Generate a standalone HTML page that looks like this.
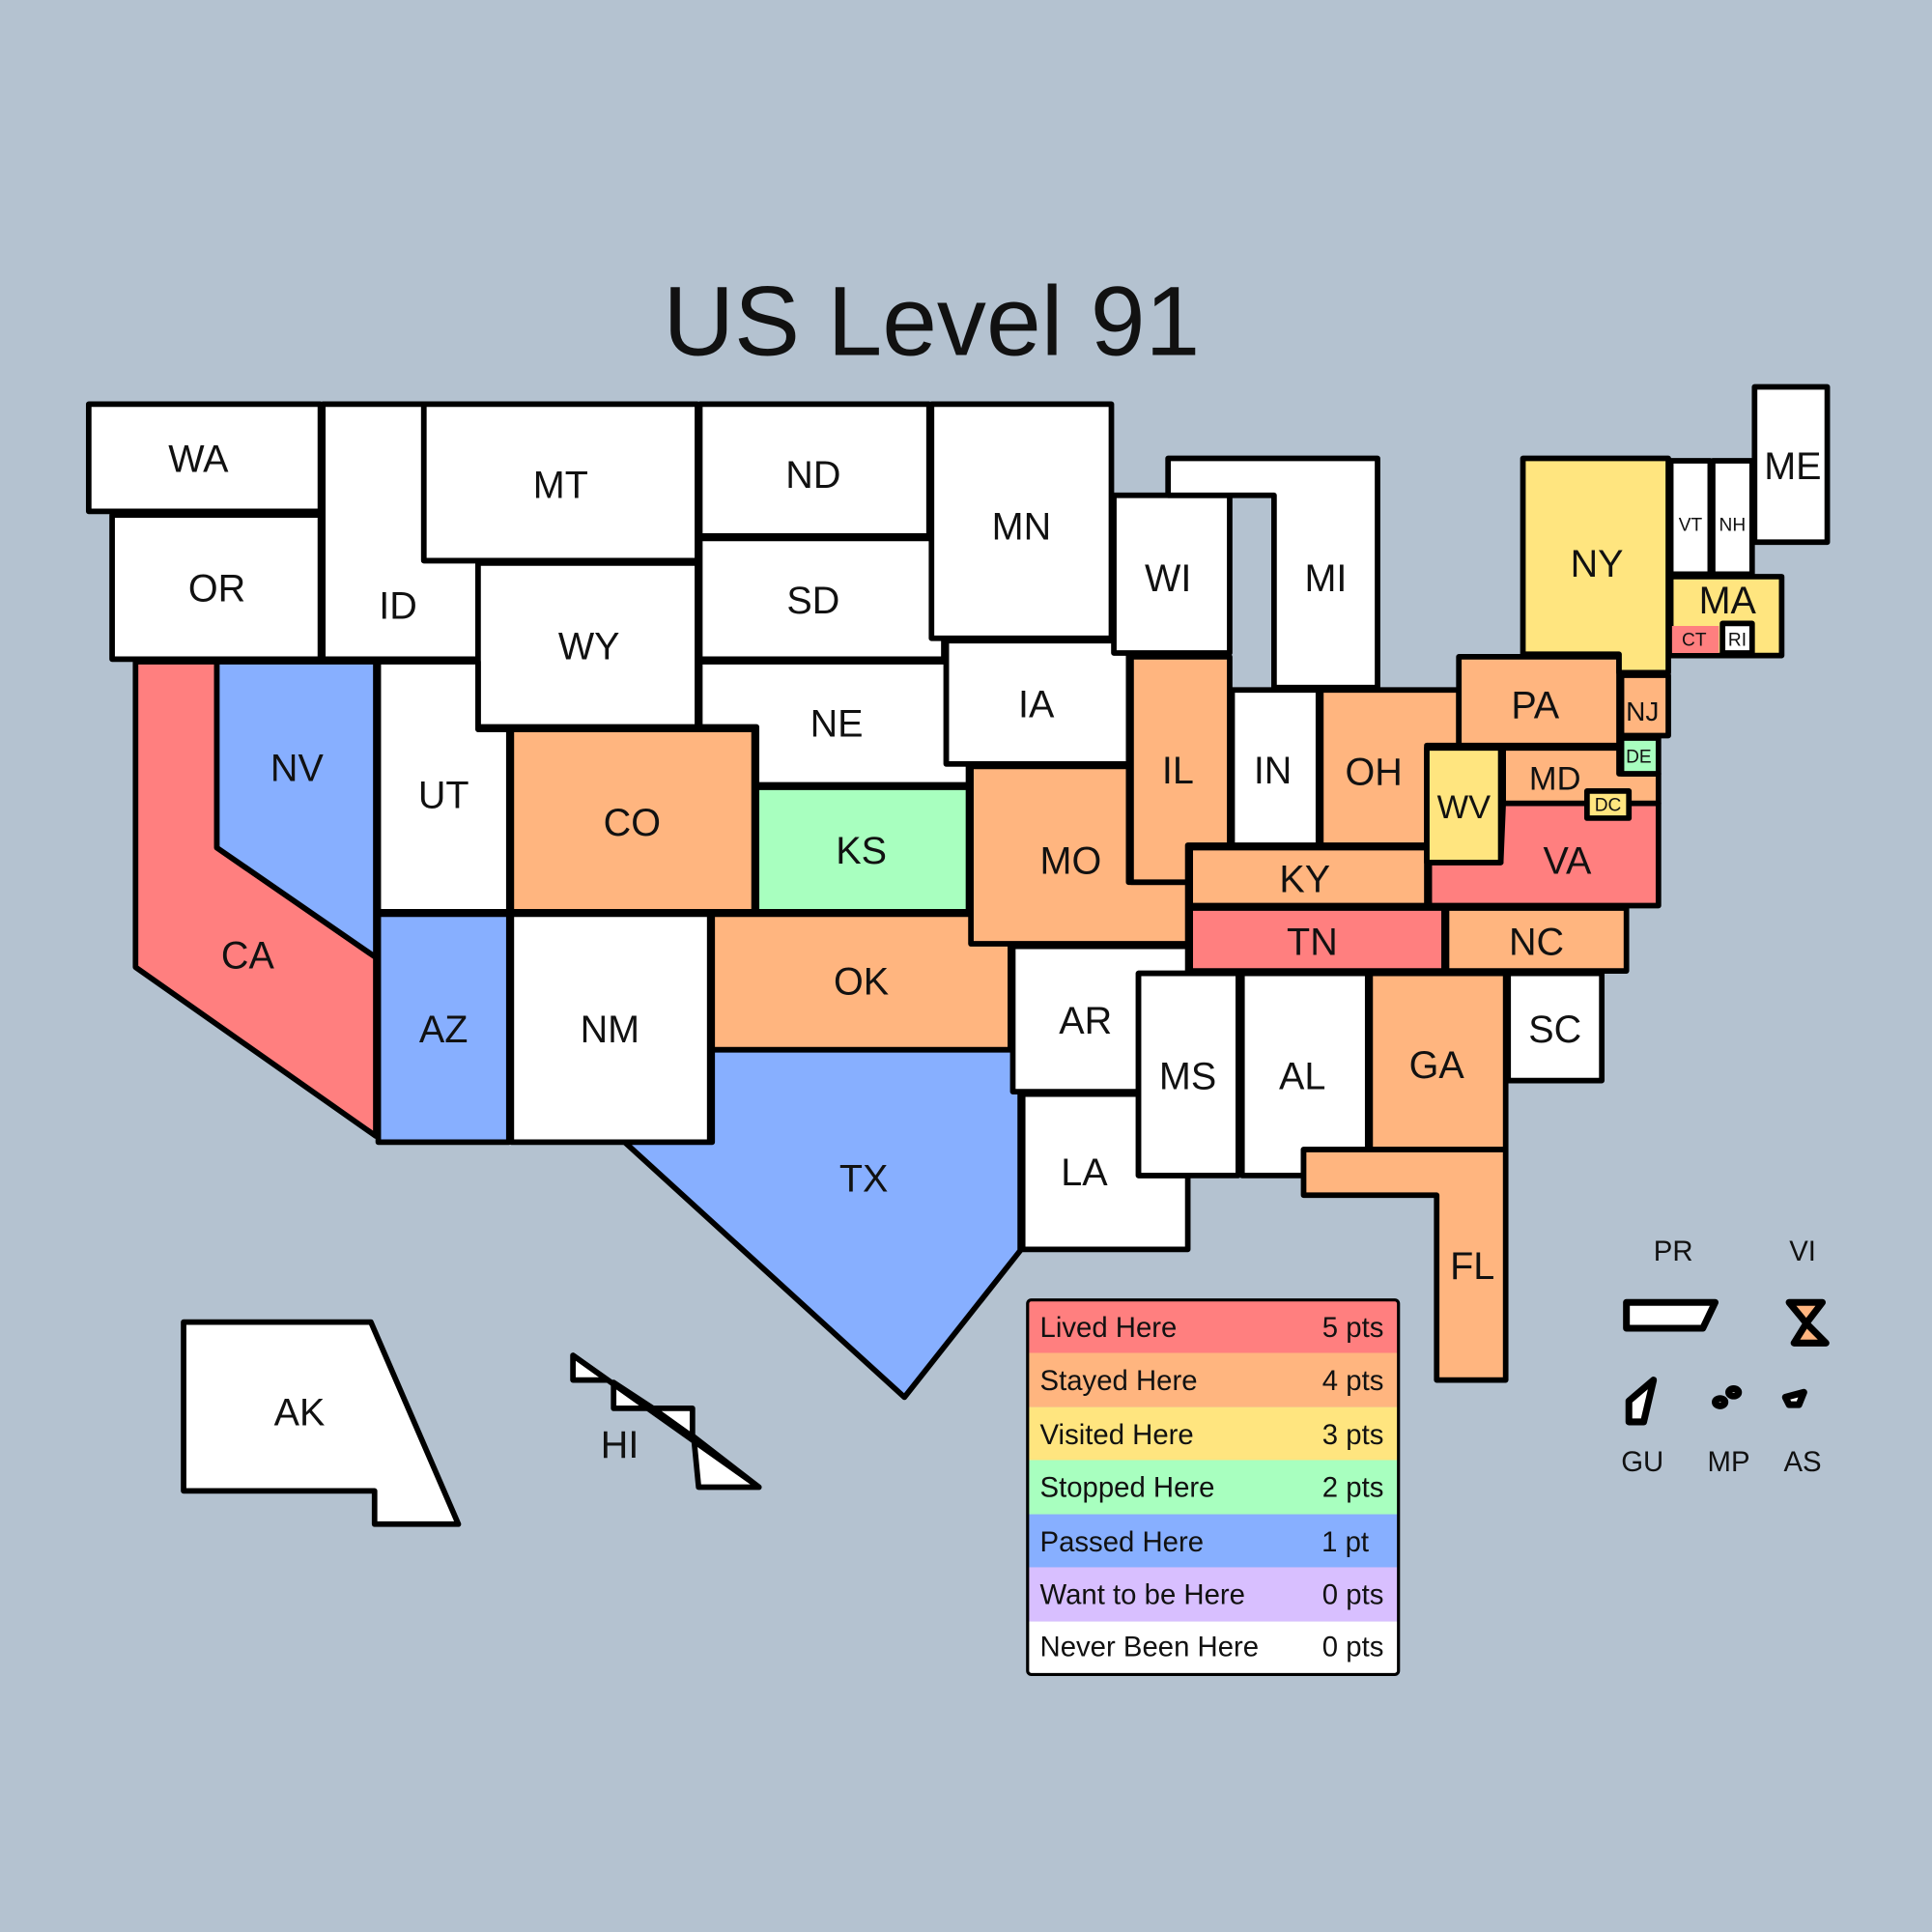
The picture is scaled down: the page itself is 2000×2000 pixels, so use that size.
<!DOCTYPE html>
<html><head><meta charset="utf-8"><style>
html,body{margin:0;padding:0;background:#b4c2d0;}
svg{display:block;}
text{font-family:"Liberation Sans",sans-serif;fill:#111;}
</style></head><body>
<svg width="2000" height="2000" viewBox="0 0 1568 1568" xmlns="http://www.w3.org/2000/svg">
<rect width="1568" height="1568" fill="#b4c2d0"/>
<text x="756" y="288" font-size="80" text-anchor="middle">US Level 91</text>
<g stroke="#000" stroke-width="4.5" stroke-linejoin="round">
<polygon fill="#fff" points="72,328 260,328 260,415 72,415"/>
<polygon fill="#fff" points="91,418 260,418 260,535 91,535"/>
<polygon fill="#fff" points="262,328 344,328 344,455 388,455 388,535 262,535"/>
<polygon fill="#fff" points="344,328 566,328 566,455 344,455"/>
<polygon fill="#fff" points="388,457 566,457 566,590 388,590"/>
<polygon fill="#fff" points="568,328 754,328 754,435 568,435"/>
<polygon fill="#fff" points="568,437 766,437 766,535 568,535"/>
<polygon fill="#fff" points="756,328 902,328 902,518 756,518"/>
<polygon fill="#fff" points="568,537 768,537 768,620 786,620 786,637 614,637 614,590 568,590"/>
<polygon fill="#fff" points="768,520 916,520 916,620 768,620"/>
<polygon fill="#fff" points="904,402 998,402 998,530 904,530"/>
<polygon fill="#fff" points="948,372 1118,372 1118,558 1034,558 1034,402 948,402"/>
<polygon fill="#ff7f7f" points="110,537 176,537 176,688 305,777 305,922 110,785"/>
<polygon fill="#87afff" points="176,537 305,537 305,777 176,688"/>
<polygon fill="#fff" points="307,537 388,537 388,592 413,592 413,740 307,740"/>
<polygon fill="#ffb57f" points="415,592 612,592 612,740 415,740"/>
<polygon fill="#a8ffbf" points="614,639 786,639 786,740 614,740"/>
<polygon fill="#87afff" points="307,742 413,742 413,927 307,927"/>
<polygon fill="#fff" points="415,742 576,742 576,927 415,927"/>
<polygon fill="#ffb57f" points="578,742 820,742 820,852 578,852"/>
<polygon fill="#87afff" points="578,852 828,852 828,1015 734,1134 507,927 578,927"/>
<polygon fill="#ffb57f" points="788,622 916,622 916,716 964,716 964,766 788,766"/>
<polygon fill="#fff" points="822,768 964,768 964,790 924,790 924,886 822,886"/>
<polygon fill="#fff" points="830,888 924,888 924,954 964,954 964,1014 830,1014"/>
<polygon fill="#fff" points="924,790 1005,790 1005,954 924,954"/>
<polygon fill="#fff" points="1008,790 1110,790 1110,933 1058,933 1058,954 1008,954"/>
<polygon fill="#ffb57f" points="1112,790 1222,790 1222,933 1112,933"/>
<polygon fill="#ffb57f" points="1058,933 1222,933 1222,1120 1166,1120 1166,970 1058,970"/>
<polygon fill="#fff" points="1224,790 1300,790 1300,877 1224,877"/>
<polygon fill="#ffb57f" points="918,533 998,533 998,686 964,686 964,716 918,716"/>
<polygon fill="#fff" points="1000,560 1070,560 1070,686 1000,686"/>
<polygon fill="#ffb57f" points="1072,560 1184,560 1184,605 1158,605 1158,686 1072,686"/>
<polygon fill="#ffb57f" points="966,688 1158,688 1158,735 966,735"/>
<polygon fill="#ff7f7f" points="966,737 1172,737 1172,788 966,788"/>
<polygon fill="#ffb57f" points="1174,737 1320,737 1320,788 1174,788"/>
<polygon fill="#ff7f7f" points="1220,652 1346,652 1346,735 1160,735 1160,700 1218,700"/>
<polygon fill="#ffe57f" points="1158,607 1218,607 1218,700 1158,700"/>
<polygon fill="#ffb57f" points="1220,607 1314,607 1314,628 1346,628 1346,652 1220,652"/>
<polygon fill="#a8ffbf" points="1316,599 1346,599 1346,628 1316,628"/>
<polygon fill="#ffb57f" points="1184,533 1314,533 1314,605 1184,605"/>
<polygon fill="#ffb57f" points="1316,548 1354,548 1354,597 1316,597"/>
<polygon fill="#ffe57f" points="1236,372 1354,372 1354,546 1314,546 1314,531 1236,531"/>
<polygon fill="#fff" points="1356,374 1388,374 1388,466 1356,466"/>
<polygon fill="#fff" points="1390,374 1422,374 1422,466 1390,466"/>
<polygon fill="#fff" points="1424,314 1483,314 1483,440 1424,440"/>
<polygon fill="#ffe57f" points="1356,468 1446,468 1446,532 1356,532"/>
<polygon fill="#ff7f7f" stroke-width="0" points="1357,508 1395,508 1395,530 1357,530"/>
<polygon fill="#fff" points="1398,506 1422,506 1422,530 1398,530"/>
<polygon fill="#ffe57f" points="1288,642 1322,642 1322,664 1288,664"/>
<polygon fill="#fff" points="149,1073 301,1073 372,1237 304,1237 304,1210 149,1210"/>
<polygon fill="#fff" points="465,1100 465,1120 493,1120"/>
<polygon fill="#fff" points="498,1122 498,1143 530,1143"/>
<polygon fill="#fff" points="530,1143 562,1143 562,1166"/>
<polygon fill="#fff" points="563,1166 567,1207 616,1207"/>
<line x1="465" y1="1100" x2="616" y2="1207"/>
</g>
<g stroke="#000" stroke-width="5.5" stroke-linejoin="round">
<polygon fill="#fff" points="1320,1057 1392,1057 1382,1078 1320,1078"/>
<polygon fill="#ffb57f" points="1452,1057 1479,1057 1466,1074 1482,1090 1456,1090 1466,1074"/>
<polygon fill="#fff" points="1322,1137 1342,1120 1334,1154 1322,1154"/>
<ellipse fill="#fff" cx="1396" cy="1138" rx="4" ry="3"/>
<ellipse fill="#fff" cx="1407" cy="1130" rx="4" ry="3"/>
<polygon fill="#fff" points="1449,1134 1464,1130 1460,1140 1452,1140"/>
</g>
<g font-size="31" text-anchor="middle">
<text x="161" y="383">WA</text><text x="176" y="488">OR</text><text x="323" y="502">ID</text>
<text x="455" y="404">MT</text><text x="478" y="535">WY</text><text x="660" y="396">ND</text>
<text x="660" y="498">SD</text><text x="829" y="438">MN</text><text x="679" y="598">NE</text>
<text x="841" y="582">IA</text><text x="948" y="480">WI</text><text x="1076" y="480">MI</text>
<text x="241" y="634">NV</text><text x="201" y="786">CA</text><text x="360" y="656">UT</text>
<text x="513" y="678">CO</text><text x="699" y="701">KS</text><text x="360" y="846">AZ</text>
<text x="495" y="846">NM</text><text x="699" y="807">OK</text><text x="701" y="967">TX</text>
<text x="869" y="709">MO</text><text x="881" y="839">AR</text><text x="880" y="962">LA</text>
<text x="964" y="884">MS</text><text x="1057" y="884">AL</text><text x="1166" y="875">GA</text>
<text x="1195" y="1038">FL</text><text x="1262" y="846">SC</text><text x="956" y="636">IL</text>
<text x="1033" y="636">IN</text><text x="1115" y="637">OH</text><text x="1059" y="724">KY</text>
<text x="1065" y="775">TN</text><text x="1247" y="775">NC</text><text x="1272" y="709">VA</text>
<text x="1246" y="583">PA</text><text x="1296" y="468">NY</text><text x="1455" y="389">ME</text>
<text x="1402" y="498">MA</text><text x="243" y="1157">AK</text><text x="503" y="1183">HI</text>
</g>
<g font-size="27" text-anchor="middle">
<text x="1188" y="664">WV</text><text x="1262" y="641">MD</text>
</g>
<g font-size="22" text-anchor="middle"><text x="1333" y="585">NJ</text></g>
<g font-size="15" text-anchor="middle">
<text x="1330" y="619">DE</text><text x="1305" y="658">DC</text><text x="1372" y="431">VT</text>
<text x="1406" y="431">NH</text><text x="1375" y="524">CT</text><text x="1410" y="524">RI</text>
</g>
<g font-size="23" text-anchor="middle">
<text x="1358" y="1023">PR</text><text x="1463" y="1023">VI</text>
<text x="1333" y="1194">GU</text><text x="1403" y="1194">MP</text><text x="1463" y="1194">AS</text>
</g>
<g stroke="none">
<rect x="834" y="1055" width="301" height="43" fill="#ff7f7f"/>
<rect x="834" y="1098" width="301" height="44" fill="#ffb57f"/>
<rect x="834" y="1142" width="301" height="43" fill="#ffe57f"/>
<rect x="834" y="1185" width="301" height="44" fill="#a8ffbf"/>
<rect x="834" y="1229" width="301" height="43" fill="#87afff"/>
<rect x="834" y="1272" width="301" height="44" fill="#d8bfff"/>
<rect x="834" y="1316" width="301" height="43" fill="#fff"/>
</g>
<rect x="834" y="1055" width="301" height="304" rx="3" fill="none" stroke="#000" stroke-width="2.5"/>
<g font-size="23">
<text x="844" y="1085">Lived Here</text><text x="1123" y="1085" text-anchor="end">5 pts</text>
<text x="844" y="1128">Stayed Here</text><text x="1123" y="1128" text-anchor="end">4 pts</text>
<text x="844" y="1172">Visited Here</text><text x="1123" y="1172" text-anchor="end">3 pts</text>
<text x="844" y="1215">Stopped Here</text><text x="1123" y="1215" text-anchor="end">2 pts</text>
<text x="844" y="1259">Passed Here</text><text x="1111" y="1259" text-anchor="end">1 pt</text>
<text x="844" y="1302">Want to be Here</text><text x="1123" y="1302" text-anchor="end">0 pts</text>
<text x="844" y="1344">Never Been Here</text><text x="1123" y="1344" text-anchor="end">0 pts</text>
</g>
</svg>
</body></html>
